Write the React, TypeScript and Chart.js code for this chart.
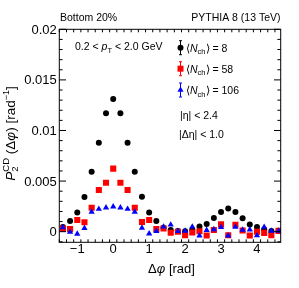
import React, { useEffect, useRef } from 'react';
import { Chart, registerables } from 'chart.js';

Chart.register(...registerables);

// Δφ bin centres (rad)
const DPHI = [-1.4, -1.2, -1.0, -0.8, -0.6, -0.4, -0.2, 0.0, 0.2, 0.4, 0.6, 0.8, 1.0, 1.2, 1.4, 1.6, 1.8, 2.0, 2.2, 2.4, 2.6, 2.8, 3.0, 3.2, 3.4, 3.6, 3.8, 4.0, 4.2, 4.4, 4.6];

// <N_ch> = 8
const NCH8 = [0.00047, 0.00106, 0.0019, 0.00342, 0.00593, 0.00879, 0.0117, 0.0131, 0.0117, 0.00879, 0.00593, 0.00346, 0.0019, 0.00106, 0.0004, 0.00017, 0.00007, 0.00005, 0.0002, 0.0005, 0.00075, 0.00135, 0.00195, 0.00228, 0.00195, 0.00133, 0.0007, 0.00047, 0.00022, 0.00006, 0.00007];
// <N_ch> = 58
const NCH58 = [0.0003, 0.00025, 0.00116, 0.00093, 0.00237, 0.00412, 0.00484, 0.00623, 0.00484, 0.00412, 0.00237, 0.00096, 0.00116, 0.00027, 0.00032, -0.0001, 0.0, -0.00035, -0.00008, 0.00004, -0.00038, 0.00017, 0.00072, -0.00035, 0.00068, 0.00012, -0.00038, 0.0, -0.00012, -0.00035, 0.00008];
// <N_ch> = 106
const NCH106 = [0.00042, -0.00003, -0.00022, 0.00035, 0.00195, 0.00224, 0.00237, 0.00247, 0.00237, 0.00224, 0.00195, 0.00038, -0.0002, 0.00005, 0.00048, 0.00068, 0.00005, 0.00008, 0.00048, -0.0004, 0.00015, 0.00022, 0.00045, -0.0004, 0.00047, 0.00018, 0.0002, -0.00038, 0.00046, 0.00007, 0.00008];

const X_TICKS = [-1, 0, 1, 2, 3, 4];
const X_TICK_LABELS = ['\u22121', '0', '1', '2', '3', '4'];
const Y_TICKS = [0, 0.005, 0.01, 0.015, 0.02];
const Y_TICK_LABELS = ['0', '0.005', '0.01', '0.015', '0.02'];

const SERIES_LABELS = ['8', '58', '106'];
const SERIES_COLORS = ['#000000', '#ff0000', '#0000ff'];

const FONT = '"Liberation Sans", Arial, Helvetica, sans-serif';

type Seg = { t: string; size: number; it?: boolean; dy?: number; keep?: boolean };

function fontOf(size: number, it?: boolean) {
  return `${it ? 'italic ' : ''}${size}px ${FONT}`;
}

function richWidth(ctx: CanvasRenderingContext2D, segs: Seg[]) {
  let w = 0;
  let pend = 0;
  for (const s of segs) {
    ctx.font = fontOf(s.size, s.it);
    const sw = ctx.measureText(s.t).width;
    if (s.keep) pend = Math.max(pend, sw);
    else {
      w += Math.max(pend, sw);
      pend = 0;
    }
  }
  return w + pend;
}

function drawRich(ctx: CanvasRenderingContext2D, segs: Seg[], x: number, y: number, align: 'left' | 'center' | 'right') {
  const W = richWidth(ctx, segs);
  let cx = align === 'center' ? x - W / 2 : align === 'right' ? x - W : x;
  let pend = 0;
  ctx.textAlign = 'left';
  ctx.textBaseline = 'alphabetic';
  for (const s of segs) {
    ctx.font = fontOf(s.size, s.it);
    ctx.fillText(s.t, cx, y + (s.dy || 0));
    const sw = ctx.measureText(s.t).width;
    if (s.keep) pend = Math.max(pend, sw);
    else {
      cx += Math.max(pend, sw);
      pend = 0;
    }
  }
}

function drawMarker(ctx: CanvasRenderingContext2D, kind: number, x: number, y: number, color: string) {
  ctx.fillStyle = color;
  ctx.beginPath();
  if (kind === 0) {
    ctx.arc(x, y, 3, 0, Math.PI * 2);
  } else if (kind === 1) {
    ctx.rect(x - 3, y - 3, 6, 6);
  } else {
    ctx.moveTo(x, y - 3.6);
    ctx.lineTo(x + 3.1, y + 1.8);
    ctx.lineTo(x - 3.1, y + 1.8);
    ctx.closePath();
  }
  ctx.fill();
}

const decorPlugin = {
  id: 'decor',
  afterDraw(chart: any) {
    const ctx: CanvasRenderingContext2D = chart.ctx;
    const { left, right, top, bottom } = chart.chartArea;
    const xs = chart.scales.x;
    const ys = chart.scales.y;
    ctx.save();
    ctx.strokeStyle = '#000';
    ctx.fillStyle = '#000';
    ctx.lineWidth = 1;
    // frame
    ctx.strokeRect(left, top, right - left, bottom - top);
    // x ticks (bottom and top, inward)
    ctx.beginPath();
    for (let i = -15; i <= 46; i += 2) {
      const v = i / 10;
      if (v < xs.min || v > xs.max) continue;
      const major = i % 10 === 0;
      const len = major ? 6 : 3;
      const px = xs.getPixelForValue(v);
      ctx.moveTo(px, bottom);
      ctx.lineTo(px, bottom - len);
      ctx.moveTo(px, top);
      ctx.lineTo(px, top + len);
    }
    // y ticks (left and right, inward)
    for (let i = -1; i <= 20; i++) {
      const v = i / 1000;
      if (v < ys.min || v > ys.max) continue;
      const major = i % 5 === 0;
      const len = major ? 6.7 : 3.3;
      const py = ys.getPixelForValue(v);
      ctx.moveTo(left, py);
      ctx.lineTo(left + len, py);
      ctx.moveTo(right, py);
      ctx.lineTo(right - len, py);
    }
    ctx.stroke();

    // tick labels
    ctx.font = fontOf(13);
    ctx.textBaseline = 'alphabetic';
    ctx.textAlign = 'right';
    Y_TICKS.forEach((v, i) => {
      ctx.fillText(Y_TICK_LABELS[i], left - 2.5, ys.getPixelForValue(v) + 4.6);
    });
    ctx.textAlign = 'center';
    X_TICKS.forEach((v, i) => {
      ctx.fillText(X_TICK_LABELS[i], xs.getPixelForValue(v), bottom + 10.5);
    });

    // axis titles
    drawRich(ctx, [
      { t: '\u0394', size: 13 },
      { t: '\u03C6', size: 13, it: true },
      { t: ' [rad]', size: 13 },
    ], (left + right) / 2 + 1.5, 272.5, 'center');

    ctx.save();
    ctx.translate(15, 133.5);
    ctx.rotate(-Math.PI / 2);
    drawRich(ctx, [
      { t: 'P', size: 13.5, it: true },
      { t: 'CD', size: 9.5, dy: -6, keep: true },
      { t: '2', size: 9.5, dy: 3 },
      { t: ' (\u0394', size: 13.5 },
      { t: '\u03C6', size: 13.5, it: true },
      { t: ') [rad', size: 13.5 },
      { t: '\u22121', size: 9, dy: -6 },
      { t: ']', size: 13.5 },
    ], 0, 0, 'center');
    ctx.restore();

    // header texts
    drawRich(ctx, [{ t: 'Bottom 20%', size: 10.5 }], 60, 20.7, 'left');
    drawRich(ctx, [{ t: 'PYTHIA 8 (13 TeV)', size: 10.5 }], 280.5, 20.7, 'right');

    // kinematic annotations
    drawRich(ctx, [
      { t: '0.2 < ', size: 10.5 },
      { t: 'p', size: 10.5, it: true },
      { t: 'T', size: 7.5, dy: 2.5 },
      { t: ' < 2.0 GeV', size: 10.5 },
    ], 75, 50, 'left');
    drawRich(ctx, [{ t: '|\u03B7| < 2.4', size: 10.5 }], 180, 119, 'left');
    drawRich(ctx, [{ t: '|\u0394\u03B7| < 1.0', size: 10.5 }], 179, 138, 'left');

    // legend
    const rowsY = [47.7, 68.7, 90];
    const baseY = [51.5, 72.7, 94];
    SERIES_LABELS.forEach((lab, i) => {
      const mx = 180.5;
      const my = rowsY[i];
      const c = SERIES_COLORS[i];
      ctx.strokeStyle = c;
      ctx.lineWidth = 1;
      ctx.beginPath();
      ctx.moveTo(mx, my - 7);
      ctx.lineTo(mx, my + 7);
      ctx.moveTo(mx - 1.5, my - 7);
      ctx.lineTo(mx + 1.5, my - 7);
      ctx.moveTo(mx - 1.5, my + 7);
      ctx.lineTo(mx + 1.5, my + 7);
      ctx.stroke();
      drawMarker(ctx, i, mx, my, c);
      ctx.fillStyle = '#000';
      drawRich(ctx, [
        { t: '\u27E8', size: 10.5 },
        { t: 'N', size: 10.5, it: true },
        { t: 'ch', size: 7.5, dy: 2.5 },
        { t: '\u27E9 = ' + lab, size: 10.5 },
      ], 186, baseY[i], 'left');
    });
    ctx.restore();
  },
};

export default function App() {
  const ref = useRef<HTMLCanvasElement | null>(null);
  useEffect(() => {
    if (!ref.current) return;
    const mk = (arr: number[]) => DPHI.map((x, i) => ({ x, y: arr[i] }));
    const chart = new Chart(ref.current, {
      type: 'scatter',
      data: {
        datasets: [
          { label: SERIES_LABELS[2], data: mk(NCH106), pointStyle: 'triangle', pointRadius: 3.6, backgroundColor: SERIES_COLORS[2], borderWidth: 0 },
          { label: SERIES_LABELS[1], data: mk(NCH58), pointStyle: 'rect', pointRadius: 4.3, backgroundColor: SERIES_COLORS[1], borderWidth: 0 },
          { label: SERIES_LABELS[0], data: mk(NCH8), pointStyle: 'circle', pointRadius: 3, backgroundColor: SERIES_COLORS[0], borderWidth: 0 },
        ],
      },
      options: {
        animation: false,
        responsive: false,
        devicePixelRatio: 1,
        layout: { padding: { top: 29.3, right: 18.3, left: 0, bottom: 0 } },
        plugins: { legend: { display: false }, tooltip: { enabled: false } },
        scales: {
          x: {
            type: 'linear',
            min: -1.5,
            max: 4.66,
            grid: { display: false, drawTicks: false },
            border: { display: false },
            ticks: { display: false },
            afterFit: (s: any) => { s.height = 45.7; },
          },
          y: {
            type: 'linear',
            min: -0.00105,
            max: 0.02,
            grid: { display: false, drawTicks: false },
            border: { display: false },
            ticks: { display: false },
            afterFit: (s: any) => { s.width = 59.3; },
          },
        },
      },
      plugins: [decorPlugin],
    } as any);
    return () => chart.destroy();
  }, []);
  return (
    <div style={{ position: 'fixed', left: 0, top: 0, width: 299, height: 288, background: '#fff' }}>
      <canvas ref={ref} width={299} height={288} style={{ display: 'block' }} />
    </div>
  );
}
